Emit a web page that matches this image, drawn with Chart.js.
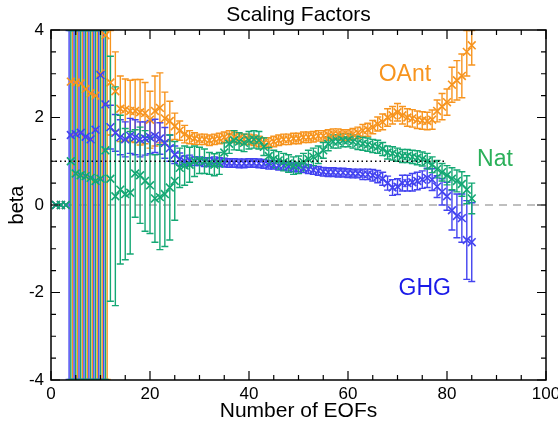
<!DOCTYPE html>
<html>
<head>
<meta charset="utf-8">
<script src="https://cdn.jsdelivr.net/npm/chart.js@4.4.0/dist/chart.umd.min.js"></script>
<style>
  body { margin: 0; background: #fff; }
  #wrap { width: 558px; height: 430px; }
</style>
</head>
<body>
<div id="wrap"><canvas id="myChart" width="558" height="430"></canvas></div>
<script>
// number of EOFs retained (x axis)
var eofs = [
   1,  2,  3,  4,  5,  6,  7,  8,  9, 10,
  11, 12, 13, 14, 15, 16, 17, 18, 19, 20,
  21, 22, 23, 24, 25, 26, 27, 28, 29, 30,
  31, 32, 33, 34, 35, 36, 37, 38, 39, 40,
  41, 42, 43, 44, 45, 46, 47, 48, 49, 50,
  51, 52, 53, 54, 55, 56, 57, 58, 59, 60,
  61, 62, 63, 64, 65, 66, 67, 68, 69, 70,
  71, 72, 73, 74, 75, 76, 77, 78, 79, 80,
  81, 82, 83, 84, 85
];

// scaling factors (beta) and error bar half widths
var oant = [
  0, 0, 0, 2.82, 2.80, 2.78, 2.65, 2.55, 2.50, 3.00,
  3.88, 2.80, 2.60, 2.20, 2.18, 2.15, 2.15, 2.12, 2.10, 1.95,
  2.15, 2.22, 1.98, 1.92, 1.80, 1.70, 1.62, 1.55, 1.52, 1.50,
  1.50, 1.48, 1.50, 1.52, 1.55, 1.58, 1.55, 1.52, 1.50, 1.50,
  1.48, 1.45, 1.42, 1.42, 1.45, 1.48, 1.50, 1.50, 1.52, 1.52,
  1.55, 1.55, 1.56, 1.58, 1.58, 1.60, 1.62, 1.62, 1.60, 1.60,
  1.62, 1.65, 1.70, 1.72, 1.78, 1.85, 1.90, 2.00, 2.05, 2.12,
  2.05, 2.00, 1.98, 1.95, 1.93, 1.92, 1.95, 2.15, 2.25, 2.35,
  2.75, 2.85, 2.95, 3.50, 3.65
];
var oantErr = [
  0, 0, 0, 20, 20, 20, 20, 20, 20, 20,
  20, 1.2, 0.9, 0.75, 0.7, 0.7, 0.72, 0.75, 0.7, 0.65,
  0.8, 0.8, 0.6, 0.45, 0.3, 0.22, 0.2, 0.15, 0.13, 0.12,
  0.12, 0.12, 0.12, 0.12, 0.12, 0.12, 0.12, 0.12, 0.12, 0.12,
  0.12, 0.12, 0.12, 0.12, 0.12, 0.12, 0.12, 0.12, 0.12, 0.12,
  0.12, 0.12, 0.12, 0.12, 0.12, 0.12, 0.12, 0.12, 0.12, 0.12,
  0.13, 0.13, 0.14, 0.15, 0.15, 0.16, 0.18, 0.2, 0.2, 0.2,
  0.2, 0.2, 0.2, 0.2, 0.2, 0.2, 0.22, 0.25, 0.3, 0.3,
  0.4, 0.45, 0.5, 0.55, 0.45
];

var ghg = [
  0, 0, 0, 1.60, 1.62, 1.65, 1.56, 1.50, 1.72, 2.97,
  2.30, 1.78, 1.65, 1.55, 1.50, 1.58, 1.55, 1.50, 1.52, 1.55,
  1.58, 1.52, 1.42, 1.30, 1.15, 1.05, 1.00, 1.02, 1.00, 1.00,
  0.98, 0.98, 1.00, 0.98, 0.97, 0.96, 0.96, 0.95, 0.95, 0.96,
  0.96, 0.95, 0.94, 0.92, 0.92, 0.90, 0.90, 0.88, 0.86, 0.86,
  0.84, 0.82, 0.80, 0.78, 0.76, 0.75, 0.75, 0.74, 0.74, 0.73,
  0.72, 0.72, 0.70, 0.70, 0.68, 0.65, 0.60, 0.50, 0.40, 0.42,
  0.50, 0.50, 0.52, 0.55, 0.58, 0.62, 0.58, 0.42, 0.30, 0.20,
  -0.12, -0.25, -0.30, -0.80, -0.85
];
var ghgErr = [
  0, 0, 0, 20, 20, 20, 20, 20, 20, 20,
  20, 0.5, 0.42, 0.4, 0.4, 0.4, 0.4, 0.4, 0.38, 0.38,
  0.38, 0.36, 0.35, 0.3, 0.2, 0.14, 0.12, 0.12, 0.1, 0.1,
  0.1, 0.1, 0.1, 0.1, 0.1, 0.1, 0.1, 0.1, 0.1, 0.1,
  0.1, 0.1, 0.1, 0.1, 0.1, 0.1, 0.1, 0.1, 0.1, 0.1,
  0.1, 0.1, 0.1, 0.1, 0.1, 0.1, 0.1, 0.1, 0.1, 0.1,
  0.1, 0.1, 0.12, 0.12, 0.13, 0.14, 0.15, 0.16, 0.18, 0.18,
  0.18, 0.18, 0.2, 0.2, 0.2, 0.22, 0.25, 0.25, 0.3, 0.32,
  0.45, 0.5, 0.55, 0.9, 0.9
];

var nat = [
  0, 0, 0, 1.00, 0.72, 0.68, 0.66, 0.62, 0.55, 0.60,
  1.25, 0.60, 0.20, 0.35, 0.25, 0.28, 0.72, 0.68, 0.55, 0.45,
  0.15, 0.18, 0.25, 0.40, 0.55, 0.85, 0.90, 0.92, 1.00, 1.02,
  1.00, 0.95, 0.92, 0.95, 1.20, 1.40, 1.48, 1.45, 1.42, 1.48,
  1.50, 1.48, 1.33, 1.12, 1.05, 1.02, 0.98, 0.95, 0.90, 0.92,
  0.98, 1.05, 1.10, 1.15, 1.25, 1.40, 1.45, 1.45, 1.48, 1.48,
  1.45, 1.42, 1.40, 1.38, 1.35, 1.33, 1.28, 1.20, 1.18, 1.15,
  1.12, 1.12, 1.10, 1.08, 1.05, 1.00, 0.92, 0.82, 0.75, 0.68,
  0.60, 0.55, 0.48, 0.35, 0.15
];
var natErr = [
  0, 0, 0, 20, 20, 20, 20, 20, 20, 20,
  20, 2.8, 2.5, 1.7, 1.5, 1.4, 1.0, 1.1, 1.15, 1.1,
  1.0, 1.2, 1.2, 1.2, 0.9, 0.45, 0.45, 0.4, 0.35, 0.3,
  0.28, 0.25, 0.25, 0.25, 0.22, 0.22, 0.22, 0.2, 0.2, 0.2,
  0.2, 0.2, 0.2, 0.2, 0.2, 0.2, 0.2, 0.2, 0.2, 0.2,
  0.2, 0.2, 0.2, 0.2, 0.18, 0.16, 0.15, 0.15, 0.15, 0.15,
  0.15, 0.15, 0.15, 0.15, 0.15, 0.15, 0.15, 0.15, 0.15, 0.15,
  0.15, 0.15, 0.15, 0.16, 0.16, 0.18, 0.18, 0.2, 0.2, 0.22,
  0.25, 0.25, 0.28, 0.32, 0.35
];

var xTicks = [0, 20, 40, 60, 80, 100];
var yTicks = [-4, -2, 0, 2, 4];

var FONT = '"Liberation Sans", Arial, Helvetica, sans-serif';

function points(vals) {
  return vals.map(function(v, i) { return { x: eofs[i], y: v }; });
}

// error bars drawn under the markers, clipped to the plot box
var errorBars = {
  id: 'errorBars',
  beforeDatasetsDraw: function(chart) {
    var ctx = chart.ctx, xs = chart.scales.x, ys = chart.scales.y, a = chart.chartArea;
    ctx.save();
    ctx.beginPath();
    ctx.rect(a.left, a.top, a.right - a.left, a.bottom - a.top);
    ctx.clip();

    // zero line (grey dashed)
    ctx.strokeStyle = '#aaaaaa';
    ctx.lineWidth = 1.5;
    ctx.setLineDash([8, 6]);
    ctx.beginPath();
    ctx.moveTo(a.left, ys.getPixelForValue(0));
    ctx.lineTo(a.right, ys.getPixelForValue(0));
    ctx.stroke();
    ctx.setLineDash([]);

    for (var d = chart.data.datasets.length - 1; d >= 0; d--) {
      var ds = chart.data.datasets[d];
      ctx.strokeStyle = ds.borderColor;
      ctx.lineWidth = 1.4;
      ds.data.forEach(function(p, i) {
        var e = ds.errors[i];
        if (!e) return;
        var px = xs.getPixelForValue(p.x);
        if (e > 10) px += ds.shift; // bundle of unbounded bars
        var y1 = Math.min(ys.getPixelForValue(p.y - e), a.bottom - 0.5);
        var y2 = Math.max(ys.getPixelForValue(p.y + e), a.top + 0.5);
        ctx.beginPath();
        ctx.moveTo(px, y1); ctx.lineTo(px, y2);
        ctx.moveTo(px - 3.5, y1); ctx.lineTo(px + 3.5, y1);
        ctx.moveTo(px - 3.5, y2); ctx.lineTo(px + 3.5, y2);
        ctx.stroke();
      });
    }
    ctx.restore();
  }
};

// IDL style frame: box, inward ticks, labels
var frame = {
  id: 'frame',
  afterDatasetsDraw: function(chart) {
    var ctx = chart.ctx, xs = chart.scales.x, ys = chart.scales.y, a = chart.chartArea;
    ctx.save();

    // dotted unity line
    ctx.strokeStyle = '#000';
    ctx.lineWidth = 1.3;
    ctx.setLineDash([1.5, 3]);
    ctx.beginPath();
    ctx.moveTo(xs.getPixelForValue(0), ys.getPixelForValue(1));
    ctx.lineTo(xs.getPixelForValue(80), ys.getPixelForValue(1));
    ctx.stroke();
    ctx.setLineDash([]);

    ctx.lineWidth = 1.5;
    ctx.strokeRect(a.left, a.top, a.right - a.left, a.bottom - a.top);

    ctx.lineWidth = 1.2;
    ctx.beginPath();
    for (var v = 0; v <= 100; v += 5) {
      var px = xs.getPixelForValue(v), len = v % 20 === 0 ? 9 : 5;
      ctx.moveTo(px, a.bottom); ctx.lineTo(px, a.bottom - len);
      ctx.moveTo(px, a.top); ctx.lineTo(px, a.top + len);
    }
    for (var w = -4; w <= 4; w += 0.5) {
      var py = ys.getPixelForValue(w), l2 = w % 2 === 0 ? 9 : 5;
      ctx.moveTo(a.left, py); ctx.lineTo(a.left + l2, py);
      ctx.moveTo(a.right, py); ctx.lineTo(a.right - l2, py);
    }
    ctx.stroke();

    ctx.fillStyle = '#000';
    ctx.font = '17px ' + FONT;
    ctx.textAlign = 'center';
    ctx.textBaseline = 'top';
    xTicks.forEach(function(t) {
      ctx.fillText(String(t), xs.getPixelForValue(t), a.bottom + 6);
    });
    ctx.textAlign = 'right';
    ctx.textBaseline = 'middle';
    yTicks.forEach(function(t) {
      ctx.fillText(String(t), a.left - 7, ys.getPixelForValue(t));
    });

    ctx.textAlign = 'center';
    ctx.font = '21px ' + FONT;
    ctx.fillText('Scaling Factors', (a.left + a.right) / 2, 15);
    ctx.fillText('Number of EOFs', (a.left + a.right) / 2, 411);
    ctx.save();
    ctx.translate(17, (a.top + a.bottom) / 2);
    ctx.rotate(-Math.PI / 2);
    ctx.font = '20px ' + FONT;
    ctx.fillText('beta', 0, 0);
    ctx.restore();

    // series labels
    ctx.font = '23px ' + FONT;
    [
      { text: 'OAnt', x: 71.5, y: 2.97, color: '#f7941e' },
      { text: 'Nat', x: 89.7, y: 1.03, color: '#2bb05a' },
      { text: 'GHG', x: 75.5, y: -1.92, color: '#1a1ae8' }
    ].forEach(function(l) {
      ctx.fillStyle = l.color;
      ctx.fillText(l.text, xs.getPixelForValue(l.x), ys.getPixelForValue(l.y));
    });
    ctx.restore();
  }
};

window.onload = function() {
  var ctx = document.getElementById('myChart').getContext('2d');

  function series(label, vals, errs, color, shift) {
    return {
      label: label,
      data: points(vals),
      errors: errs,
      shift: shift,
      showLine: false,
      pointStyle: 'crossRot',
      pointRadius: 5.5,
      pointBorderWidth: 1.6,
      borderColor: color,
      backgroundColor: color
    };
  }

  var myChart = new Chart(ctx, {
    type: 'scatter',
    data: {
      datasets: [
        series('Nat', nat, natErr, '#14a874', 0),
        series('GHG', ghg, ghgErr, '#4343f0', -1.7),
        series('OAnt', oant, oantErr, '#f7941e', 1.7)
      ]
    },
    options: {
      responsive: false,
      animation: false,
      devicePixelRatio: 1,
      layout: { padding: { top: 30, right: 12, left: 0, bottom: 0 } },
      plugins: {
        legend: { display: false },
        tooltip: { enabled: false },
        title: { display: false }
      },
      scales: {
        x: {
          type: 'linear', min: 0, max: 100,
          ticks: { display: false },
          grid: { display: false },
          border: { display: false },
          afterFit: function(s) { s.height = 50; }
        },
        y: {
          type: 'linear', min: -4, max: 4,
          ticks: { display: false },
          grid: { display: false },
          border: { display: false },
          afterFit: function(s) { s.width = 51; }
        }
      }
    },
    plugins: [errorBars, frame]
  });
};
</script>
</body>
</html>
